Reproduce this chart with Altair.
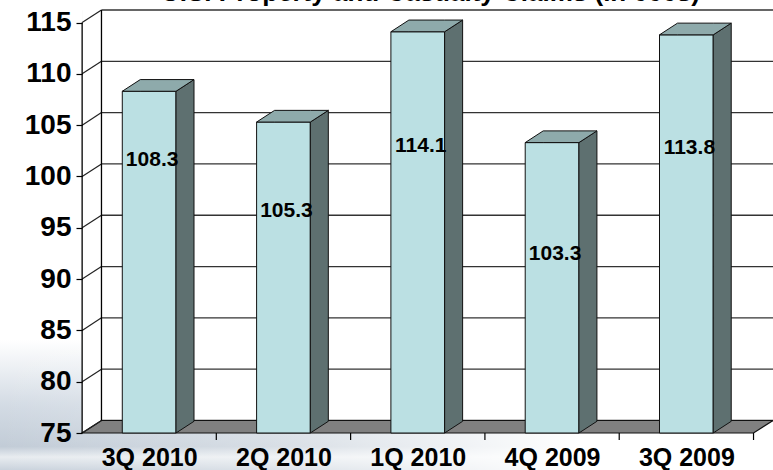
import altair as alt
import pandas as pd

categories = ["3Q 2010", "2Q 2010", "1Q 2010", "4Q 2009", "3Q 2009"]
values = [108.3, 105.3, 114.1, 103.3, 113.8]
label_y = [101.6, 96.6, 103.0, 92.4, 102.8]
y_ticks = [75, 80, 85, 90, 95, 100, 105, 110, 115]
title_text = "U.S. Property and Casualty Claims (in 000s)"

FONT = "Liberation Sans, Arial, sans-serif"
Y0, YTOP = 75, 115
N = len(categories)
X0 = 0.001                  # front plane x (start of category axis)
DXW, DYW = 0.145, 1.22      # wall depth (x units, y units)
BDX, BDY = 0.134, 1.14      # bar depth
HALF = 0.2                  # half bar width in category units
XMAX = N + DXW
YMAX = YTOP + DYW
W, H = 691, 423
LEFT, TOP = 82, 10

xs = alt.Scale(domain=[0, XMAX], nice=False, zero=False)
ys = alt.Scale(domain=[Y0, YMAX], nice=False, zero=False)

label_expr = " : ".join(
    [f"datum.value == {i + 0.5} ? '{c}'" for i, c in enumerate(categories)]) + " : ''"

X_AX = alt.Axis(values=[i + 0.5 for i in range(N)], labelExpr=label_expr,
                ticks=False, domain=False, grid=False, title=None, zindex=2,
                labelFont=FONT, labelFontSize=25, labelFontWeight="bold",
                labelColor="black", labelPadding=12)
Y_AX = alt.Axis(values=y_ticks, domain=False, grid=False, title=None, zindex=2,
                ticks=True, tickSize=6, tickColor="black", tickWidth=1.2,
                labelFont=FONT, labelFontSize=28, labelFontWeight="bold",
                labelColor="black", labelPadding=5)


def X(f):
    return alt.X(f, scale=xs, axis=X_AX)


def Y(f):
    return alt.Y(f, scale=ys, axis=Y_AX)


# ---- data tables built from the arrays ----
fronts = pd.DataFrame({
    "x": [i + 0.5 - HALF for i in range(N)],
    "x2": [i + 0.5 + HALF for i in range(N)],
    "lo": [Y0] * N,
    "hi": values,
    "cx": [i + 0.5 for i in range(N)],
    "ly": label_y,
    "lab": [f"{v:.1f}" for v in values],
})

side_rows, top_rows = [], []
for i, v in enumerate(values):
    L, R = i + 0.5 - HALF, i + 0.5 + HALF
    side_rows += [dict(id=i, x=R, lo=Y0, hi=v), dict(id=i, x=R + BDX, lo=Y0 + BDY, hi=v + BDY)]
    top_rows += [dict(id=i, x=L, lo=v, hi=v), dict(id=i, x=L + BDX, lo=v, hi=v + BDY),
                 dict(id=i, x=R, lo=v, hi=v + BDY), dict(id=i, x=R + BDX, lo=v + BDY, hi=v + BDY)]
sides = pd.DataFrame(side_rows)
tops = pd.DataFrame(top_rows)

floor = pd.DataFrame([
    dict(id=0, x=X0, lo=Y0, hi=Y0), dict(id=0, x=DXW, lo=Y0, hi=Y0 + DYW),
    dict(id=0, x=N, lo=Y0, hi=Y0 + DYW), dict(id=0, x=N + DXW, lo=Y0 + DYW, hi=Y0 + DYW),
])

grid_back = pd.DataFrame({"x": [DXW] * len(y_ticks), "x2": [XMAX] * len(y_ticks),
                          "y": [t + DYW for t in y_ticks]})
grid_side = pd.DataFrame({"x": [X0] * len(y_ticks), "x2": [DXW] * len(y_ticks),
                          "y": y_ticks, "y2": [t + DYW for t in y_ticks]})
walls = pd.DataFrame({"x": [X0, DXW], "x2": [X0, DXW], "y": [Y0, Y0 + DYW], "y2": [YTOP, YMAX]})
xticks = pd.DataFrame({"x": list(range(1, N + 1)), "y": [Y0] * N})
wall_fill = pd.DataFrame({"x": [X0], "x2": [XMAX], "y": [Y0], "y2": [YMAX]})

# ---- layers ----
one = pd.DataFrame({"a": [0]})
bg1 = alt.Chart(one).mark_rect(
    color=alt.Gradient(
        gradient="linear", x1=0, y1=0, x2=0, y2=1,
        stops=[alt.GradientStop(color="#ffffff", offset=0),
               alt.GradientStop(color="#d3dbe4", offset=0.5),
               alt.GradientStop(color="#c2ccd7", offset=0.82),
               alt.GradientStop(color="#e8ecf0", offset=0.9),
               alt.GradientStop(color="#c9d2dc", offset=1)])
).encode(x=alt.value(-LEFT), x2=alt.value(W), y=alt.value(330), y2=alt.value(470 - TOP))
bg2 = alt.Chart(one).mark_rect(
    color=alt.Gradient(
        gradient="linear", x1=0, y1=0, x2=1, y2=0,
        stops=[alt.GradientStop(color="rgba(255,255,255,0)", offset=0),
               alt.GradientStop(color="rgba(255,255,255,0.35)", offset=0.35),
               alt.GradientStop(color="rgba(255,255,255,1)", offset=0.75),
               alt.GradientStop(color="rgba(255,255,255,1)", offset=1)])
).encode(x=alt.value(-LEFT), x2=alt.value(W), y=alt.value(330), y2=alt.value(470 - TOP))

wall = alt.Chart(wall_fill).mark_rect(fill="white").encode(
    x=X("x:Q"), x2="x2:Q", y=Y("y:Q"), y2="y2:Q")

gb = alt.Chart(grid_back).mark_rule(color="#333333", strokeWidth=1.3).encode(
    x=X("x:Q"), x2="x2:Q", y=Y("y:Q"))

fl = alt.Chart(floor).mark_area(fill="#808080", stroke="#111111", strokeWidth=1.2,
                                 fillOpacity=1).encode(
    x=X("x:Q"), y=Y("lo:Q"), y2="hi:Q", detail="id:N")

gs = alt.Chart(grid_side).mark_rule(color="#222222", strokeWidth=1.2).encode(
    x=X("x:Q"), x2="x2:Q", y=Y("y:Q"), y2="y2:Q")
wl = alt.Chart(walls).mark_rule(color="black", strokeWidth=1.3).encode(
    x=X("x:Q"), x2="x2:Q", y=Y("y:Q"), y2="y2:Q")

xt = alt.Chart(xticks).mark_rule(color="black", strokeWidth=1.2, y2Offset=7).encode(
    x=X("x:Q"), y=Y("y:Q"), y2="y:Q")

fr = alt.Chart(fronts).mark_rect(fill="#bbe0e3", stroke="#111111", strokeWidth=1).encode(
    x=X("x:Q"), x2="x2:Q", y=Y("lo:Q"), y2="hi:Q")

sd = alt.Chart(sides).mark_area(fill="#5e7070", stroke="#111111", strokeWidth=1,
                                fillOpacity=1).encode(
    x=X("x:Q"), y=Y("lo:Q"), y2="hi:Q", detail="id:N")

tp = alt.Chart(tops).mark_area(fill="#8eaaab", stroke="#111111", strokeWidth=1,
                               fillOpacity=1).encode(
    x=X("x:Q"), y=Y("lo:Q"), y2="hi:Q", detail="id:N")

lb = alt.Chart(fronts).mark_text(font=FONT, fontSize=21, fontWeight="bold", color="black",
                                 dx=3, baseline="middle", align="center").encode(
    x=X("cx:Q"), y=Y("ly:Q"), text="lab:N")

chart = alt.layer(bg1, bg2, wall, gb, fl, gs, wl, xt, fr, sd, tp, lb).properties(
    width=W, height=H,
    title=alt.TitleParams(text=title_text, font=FONT, fontSize=26, fontWeight="bold",
                          color="black", anchor="middle", offset=3, dx=3),
    autosize=alt.AutoSizeParams(type="none"),
    padding={"left": LEFT, "top": TOP, "right": 0, "bottom": 470 - TOP - H},
).configure_view(stroke=None).configure(background="white")

chart.save("out.html", embed_options={"renderer": "svg", "actions": False})
